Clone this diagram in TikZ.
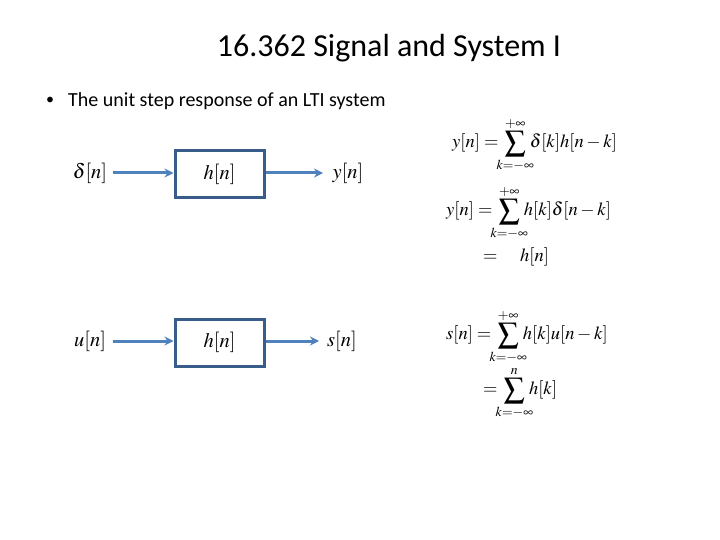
\documentclass[tikz,border=0pt]{standalone}
\usepackage{mathptmx}
\usepackage{mathtools}
\usepackage{fontspec}
\setmainfont{Carlito}
\usetikzlibrary{arrows.meta}
\definecolor{arrowblue}{HTML}{4F81BD}
\definecolor{boxblue}{HTML}{385D8A}
\tikzset{
  sysbox/.style={draw=boxblue, line width=3pt, minimum width=89pt, minimum height=47pt, inner sep=0pt, font=\fontsize{20.5}{24}\selectfont},
  siglabel/.style={inner sep=1pt, font=\fontsize{20.5}{24}\selectfont},
  flow/.style={draw=arrowblue, line width=3pt, -{Stealth[length=9pt,width=9pt]}},
  eqn/.style={anchor=west, inner sep=0pt, font=\fontsize{18.5}{22}\selectfont}
}
\newcommand{\bigsum}[2]{\,\mathop{\mathchoice{\raisebox{-0.08em}{\scalebox{1.12}{$\displaystyle\sum$}}}{\sum}{\sum}{\sum}}\limits_{\mathclap{#1}}^{\mathclap{#2}}\,}
\begin{document}
\begin{tikzpicture}[x=1pt,y=-1pt]
\path[use as bounding box, fill=white] (0,0) rectangle (720,540);
\node[font=\fontsize{32}{38}\selectfont] (title) at (389,48) {16.362 Signal and System I};
\node[anchor=west, inner sep=0pt, font=\fontsize{16}{20}\selectfont] (bul) at (46,101) {•};
\node[anchor=west, inner sep=0pt, font=\fontsize{20}{24}\selectfont] (sub) at (68,101) {The unit step response of an LTI system};

% system 1
\node[sysbox] (h1) at (219.5,174.5) {$h[n]$};
\node[siglabel] (x1) at (90,173) {$\delta[n]$};
\node[siglabel] (y1) at (348,173) {$y[n]$};
\draw[flow] (113,173) coordinate (a1) -- (h1.west |- a1);
\draw[flow] (h1.east |- a1) -- (323,173) coordinate (b1);

% system 2
\node[sysbox] (h2) at (219.5,342.5) {$h[n]$};
\node[siglabel] (x2) at (90,341) {$u[n]$};
\node[siglabel] (y2) at (342,341) {$s[n]$};
\draw[flow] (113,341) coordinate (a2) -- (h2.west |- a2);
\draw[flow] (h2.east |- a2) -- (319,341) coordinate (b2);

% equations
\node[eqn] (e1) at (452,145) {$\displaystyle y[n]=\bigsum{k=-\infty}{+\infty}\delta[k]h[n-k]$};
\node[eqn] (e2) at (446,213) {$\displaystyle y[n]=\bigsum{k=-\infty}{+\infty}h[k]\delta[n-k]$};
\node[eqn] (e3) at (483,257) {$=\quad h[n]$};
\node[eqn] (e4) at (446,337) {$\displaystyle s[n]=\bigsum{k=-\infty}{+\infty}h[k]u[n-k]$};
\node[eqn] (e5) at (483,393) {$\displaystyle =\bigsum{k=-\infty}{n}h[k]$};
\end{tikzpicture}
\end{document}
